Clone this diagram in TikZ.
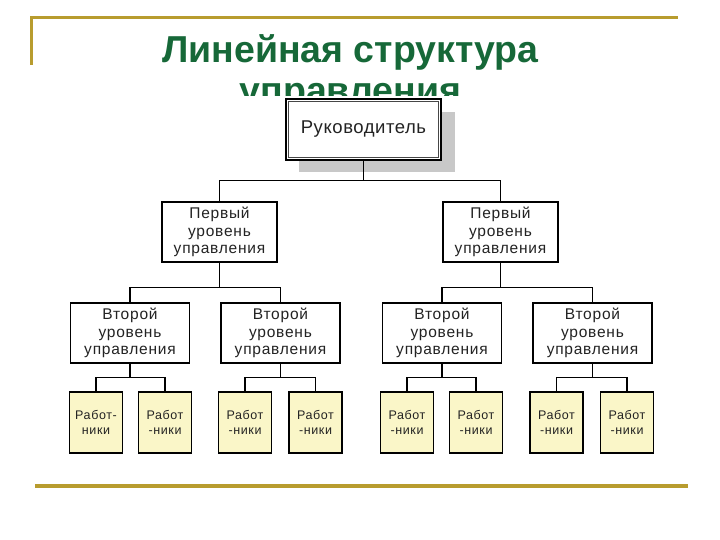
\documentclass[tikz,border=0pt]{standalone}
\usepackage{fontspec}
\setmainfont{Liberation Sans}
\usetikzlibrary{calc}
\definecolor{gold}{RGB}{184,156,46}
\definecolor{titlegreen}{RGB}{22,104,56}
\definecolor{workerfill}{RGB}{250,246,200}
\definecolor{shadowgray}{RGB}{200,200,200}
\definecolor{txt}{RGB}{35,35,35}
\definecolor{innerline}{RGB}{70,70,70}
\begin{document}
\begin{tikzpicture}[x=1pt,y=-1pt,
  box/.style={draw=black, line width=1.1pt, fill=white, inner sep=0pt, align=center, text=txt},
  firstbox/.style={box, minimum width=115pt, minimum height=60pt, font=\fontsize{15.5}{17.5}\selectfont\addfontfeatures{LetterSpace=5}},
  secondbox/.style={box, minimum width=119pt, minimum height=60pt, font=\fontsize{15.5}{17.5}\selectfont\addfontfeatures{LetterSpace=5}},
  workerbox/.style={box, fill=workerfill, minimum width=53pt, minimum height=61pt, font=\fontsize{12.5}{15}\selectfont\addfontfeatures{LetterSpace=5}},
  bossbox/.style={box, line width=1.3pt, minimum width=155pt, minimum height=61pt, font=\fontsize{18.5}{20}\selectfont\addfontfeatures{LetterSpace=3}},
  innerframe/.style={draw=innerline, line width=0.9pt},
  conn/.style={draw=black, line width=1.1pt},
  titlefont/.style={font=\fontsize{37.5}{40}\bfseries\selectfont, text=titlegreen, inner sep=0pt, anchor=base}
]
\useasboundingbox (0,0) rectangle (720,540);
% decorative gold lines
\draw[gold, line width=3pt] (31,65) -- (31,18) -- (678,18);
\draw[gold, line width=4pt] (35,486) -- (688,486);
% title
\node[titlefont] (title1) at (350.5,63) {Линейная структура};
\node[titlefont] (title2) at (350.5,104) {управления};
% white chart background covering the title
\fill[white] (60,96.5) rectangle (660,460);
% boss shadow and box
\fill[shadowgray] (299,112) rectangle (455,172);
\node[bossbox] (boss) at (363.5,129.5) {Руководитель};
\draw[innerframe] ($(boss.north west)+(3.5,3.5)$) rectangle ($(boss.south east)+(-3.5,-3.5)$);
% first level
\node[firstbox] (f1) at (219.5,232) {Первый\\уровень\\управления};
\node[firstbox] (f2) at (500.5,232) {Первый\\уровень\\управления};
% second level
\node[secondbox] (s1) at (130,333) {Второй\\уровень\\управления};
\node[secondbox] (s2) at (280.5,333) {Второй\\уровень\\управления};
\node[secondbox] (s3) at (442,333) {Второй\\уровень\\управления};
\node[secondbox] (s4) at (592.5,333) {Второй\\уровень\\управления};
% workers
\node[workerbox] (w1) at (96,422.5) {Работ-\\ники};
\node[workerbox] (w2) at (165,422.5) {Работ\\-ники};
\node[workerbox] (w3) at (245,422.5) {Работ\\-ники};
\node[workerbox] (w4) at (315.5,422.5) {Работ\\-ники};
\node[workerbox] (w5) at (407,422.5) {Работ\\-ники};
\node[workerbox] (w6) at (476,422.5) {Работ\\-ники};
\node[workerbox] (w7) at (556.5,422.5) {Работ\\-ники};
\node[workerbox] (w8) at (627,422.5) {Работ\\-ники};
% connectors
\draw[conn] (boss.south) -- ++(0,20) -| (f1.north);
\draw[conn] (boss.south) -- ++(0,20) -| (f2.north);
\draw[conn] (f1.south) -- ++(0,25) -| (s1.north);
\draw[conn] (f1.south) -- ++(0,25) -| (s2.north);
\draw[conn] (f2.south) -- ++(0,25) -| (s3.north);
\draw[conn] (f2.south) -- ++(0,25) -| (s4.north);
\draw[conn] (s1.south) -- ++(0,14) -| (w1.north);
\draw[conn] (s1.south) -- ++(0,14) -| (w2.north);
\draw[conn] (s2.south) -- ++(0,14) -| (w3.north);
\draw[conn] (s2.south) -- ++(0,14) -| (w4.north);
\draw[conn] (s3.south) -- ++(0,14) -| (w5.north);
\draw[conn] (s3.south) -- ++(0,14) -| (w6.north);
\draw[conn] (s4.south) -- ++(0,14) -| (w7.north);
\draw[conn] (s4.south) -- ++(0,14) -| (w8.north);
\end{tikzpicture}
\end{document}
